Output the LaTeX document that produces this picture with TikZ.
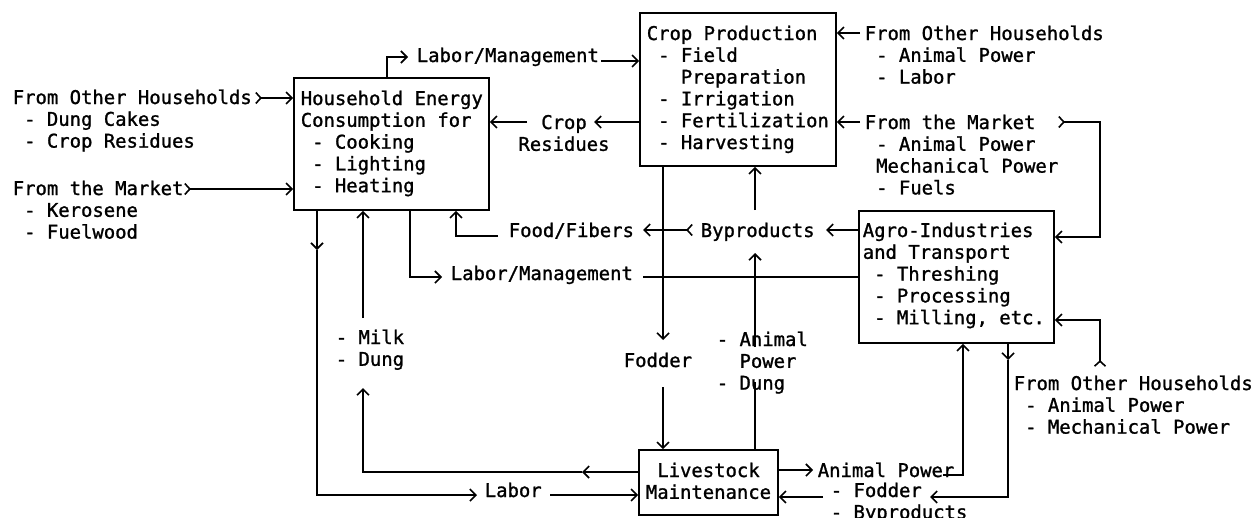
\documentclass[tikz,border=0pt]{standalone}
\usepackage{fontspec}
\newfontfamily\plot[FakeBold=1.2]{DejaVu Sans Mono}
\usetikzlibrary{arrows.meta}
\tikzset{
  box/.style={draw, inner sep=0pt},
  lbl/.style={inner sep=0pt, anchor=base west, align=left},
  clbl/.style={inner sep=0pt, anchor=base, align=center},
  nl/.style={yshift=-#1*21.8pt},
  arr/.style={-{Straight Barb[length=6pt,width=12pt]}},
  tarr/.style={{Straight Barb[reversed,length=5pt,width=11pt]}-{Straight Barb[length=6pt,width=12pt]}},
}
\newcommand\ind[1][x]{\phantom{#1}}
\begin{document}
\begin{tikzpicture}[x=1pt,y=-1pt,line width=1.6pt,font={\plot\fontsize{18.9}{21.8}\selectfont}]
\fill[white] (0,0) rectangle (1257,517);
\useasboundingbox (0,0) rectangle (1257,517);
% boxes
\node[box, minimum width=195pt, minimum height=132pt] (hh) at (391.5,144) {};
\node[box, minimum width=196pt, minimum height=153pt] (cp) at (738,89.5) {};
\node[box, minimum width=195pt, minimum height=132pt] (ag) at (956.5,277) {};
\node[box, minimum width=139pt, minimum height=65pt] (ls) at (708.5,482.5) {};
% texts
\node[lbl, nl=4] (hhT) at (300,105) {Household Energy\\Consumption for\\\ind- Cooking\\\ind- Lighting\\\ind- Heating};
\node[lbl, nl=5] (cpT) at (646,40) {Crop Production\\\ind- Field\\\ind[xxx]Preparation\\\ind- Irrigation\\\ind- Fertilization\\\ind- Harvesting};
\node[lbl, nl=4] (agT) at (862,237) {Agro-Industries\\and Transport\\\ind- Threshing\\\ind- Processing\\\ind- Milling, etc.};
\node[clbl, nl=1] (lsT) at (708.5,477) {Livestock\\Maintenance};
\node[lbl, nl=2] (ohL) at (12,104) {From Other Households\\\ind- Dung Cakes\\\ind- Crop Residues};
\node[lbl, nl=2] (mkL) at (12,195) {From the Market\\\ind- Kerosene\\\ind- Fuelwood};
\node[lbl] (lm1) at (416,62) {Labor/Management};
\node[clbl, nl=1] (crL) at (564,129) {Crop\\Residues};
\node[lbl, nl=2] (ohR) at (864,40) {From Other Households\\\ind- Animal Power\\\ind- Labor};
\node[lbl, nl=3] (mkR) at (864,129) {From the Market\\\ind- Animal Power\\\ind Mechanical Power\\\ind- Fuels};
\node[lbl] (byp) at (700,237) {Byproducts};
\node[lbl] (ff) at (508,237) {Food/Fibers};
\node[lbl] (lm2) at (450,280) {Labor/Management};
\node[lbl, nl=1] (milk) at (335,344) {- Milk\\- Dung};
\node[lbl] (fod) at (623,367) {Fodder};
\node[lbl, nl=2] (apd) at (716,346) {- Animal\\\ind[xx]Power\\- Dung};
\node[lbl] (lab) at (484,497) {Labor};
\node[lbl] (apR) at (817,477) {Animal Power};
\node[lbl, nl=1] (fbR) at (830,497) {- Fodder\\- Byproducts};
\node[lbl, nl=2] (ohR2) at (1013,390) {From Other Households\\\ind- Animal Power\\\ind- Mechanical Power};
% connectors
\coordinate (a1) at (255,98);  \draw[tarr] (a1) -- (a1 -| hh.west);
\coordinate (a2) at (184,189); \draw[tarr] (a2) -- (a2 -| hh.west);
\coordinate (a3) at (387,57); \coordinate (a3e) at (408,57);
\draw[arr] (a3 |- hh.north) -- (a3) -- (a3e);
\coordinate (a4) at (601,61); \draw[arr] (a4) -- (a4 -| cp.west);
\coordinate (a5) at (594,122); \draw[arr] (a5 -| cp.west) -- (a5);
\coordinate (a6) at (527,122); \draw[arr] (a6) -- (a6 -| hh.east);
\coordinate (a7) at (860,33); \draw[arr] (a7) -- (a7 -| cp.east);
\coordinate (a8) at (860,122); \draw[arr] (a8) -- (a8 -| cp.east);
\coordinate (a9) at (1058,122); \coordinate (a9c) at (1100,237);
\draw[tarr] (a9) -- (a9 -| a9c) -- (a9c) -- (a9c -| ag.east);
\coordinate (a10) at (826,230); \draw[arr] (a10 -| ag.west) -- (a10);
\coordinate (a11) at (693,230); \coordinate (a11e) at (643,230); \draw[tarr] (a11) -- (a11e);
\coordinate (a12) at (498,236); \coordinate (a12c) at (456,236);
\draw[arr] (a12) -- (a12c) -- (a12c |- hh.south);
\coordinate (a13) at (755,210); \draw[arr] (a13) -- (a13 |- cp.south);
\coordinate (a14) at (663,340); \draw[arr] (a14 |- cp.south) -- (a14);
\coordinate (a15) at (663,387); \draw[arr] (a15) -- (a15 |- ls.north);
\coordinate (a16) at (410,277); \coordinate (a16e) at (442,277);
\draw[arr] (a16 |- hh.south) -- (a16) -- (a16e);
\coordinate (a17) at (643,277); \draw (a17) -- (a17 -| ag.west);
\coordinate (a18) at (317,250); \coordinate (a18c) at (317,495); \coordinate (a18e) at (477,495);
\draw[arr] (a18 |- hh.south) -- (a18); \draw[arr] (a18) -- (a18c) -- (a18e);
\coordinate (a19) at (550,495); \draw[arr] (a19) -- (a19 -| ls.west);
\coordinate (a20) at (582,472); \coordinate (a20c) at (363,472); \coordinate (a20e) at (363,388);
\draw[arr] (a20 -| ls.west) -- (a20); \draw[arr] (a20) -- (a20c) -- (a20e);
\coordinate (a21) at (363,318); \draw[arr] (a21) -- (a21 |- hh.south);
\coordinate (a22) at (813,470); \draw[arr] (a22 -| ls.east) -- (a22);
\coordinate (a23) at (943,475); \coordinate (a23c) at (963,475);
\draw[arr] (a23) -- (a23c) -- (a23c |- ag.south);
\coordinate (a24) at (1008,360); \coordinate (a24c) at (1008,497); \coordinate (a24e) at (930,497);
\draw[arr] (a24 |- ag.south) -- (a24); \draw[arr] (a24) -- (a24c) -- (a24e);
\coordinate (a25) at (823,497); \draw[arr] (a25) -- (a25 -| ls.east);
\coordinate (a26) at (1100,367); \coordinate (a26c) at (1100,320);
\draw[tarr] (a26) -- (a26c) -- (a26c -| ag.east);
\coordinate (a27) at (755,382); \coordinate (a27b) at (755,347); \coordinate (a27e) at (755,253);
\draw (a27 |- ls.north) -- (a27); \draw[arr] (a27b) -- (a27e);
\end{tikzpicture}
\end{document}
